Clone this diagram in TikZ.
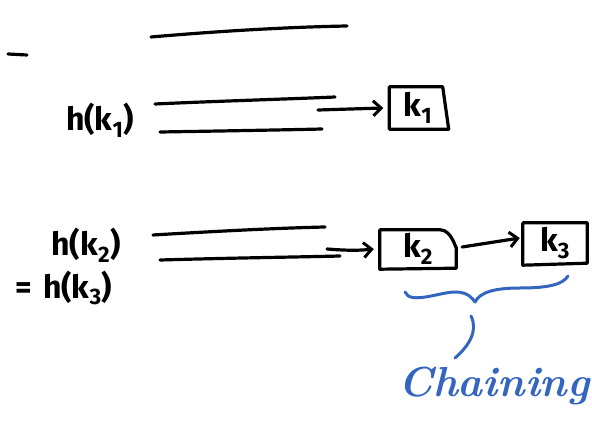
\documentclass[tikz,border=0pt]{standalone}
\usepackage{fontspec}
\setsansfont{Fira Sans}
\usetikzlibrary{arrows.meta}
\definecolor{inkblue}{RGB}{52,102,192}
\tikzset{
  ink/.style={line width=3.2pt, line cap=round, line join=round, black},
  blueink/.style={line width=3pt, line cap=round, line join=round, inkblue},
  link/.style={ink, -{Straight Barb[length=8pt,width=15pt,line width=3pt]}},
  keybox/.style={inner sep=0pt, font=\sffamily\bfseries\fontsize{32}{32}\selectfont},
  label/.style={inner sep=0pt, font=\sffamily\bfseries\fontsize{32}{32}\selectfont},
}
\begin{document}
\begin{tikzpicture}[x=1pt,y=-1pt]
\useasboundingbox (0,0) rectangle (592,425);

% empty slot and stray mark at the top
\draw[ink] (8,54) -- (27,55);
\draw[ink] (151,37) .. controls (220,31) and (290,27) .. (347,26);

% slot for h(k1)
\node[label] (hk1) at (100,120) {h(k\textsubscript{1})};
\draw[ink] (155,104) .. controls (220,101) and (290,99) .. (335,97);
\draw[ink] (160,132) .. controls (220,131) and (280,130) .. (322,129);
\coordinate (s1) at (318,110);

% slot for h(k2) = h(k3)
\node[label] (hk2) at (86,245) {h(k\textsubscript{2})};
\node[label] (hk3) at (64,288) {=\,\,h(k\textsubscript{3})};
\draw[ink] (153,235) .. controls (220,231) and (280,228) .. (325,227);
\draw[ink] (160,260) .. controls (230,258) and (300,257) .. (340,256);
\coordinate (s2) at (327,249);

% key nodes
\node[keybox, minimum width=57pt, minimum height=42pt] (k1) at (418,108) {k\textsubscript{1}};
\draw[ink] (k1.north west) -- ([xshift=-4pt]k1.north east)
  -- ([xshift=2pt]k1.south east) -- (k1.south west) -- cycle;

\node[keybox, minimum width=76pt, minimum height=38pt] (k2) at (418,249) {k\textsubscript{2}};
\draw[ink] (k2.north west) -- ([xshift=-16pt]k2.north east)
  .. controls ([xshift=-4pt]k2.north east) and ([yshift=-2pt]k2.east) .. ([yshift=2pt]k2.east)
  -- (k2.south east) -- ([yshift=-1pt]k2.south west) -- cycle;

\node[keybox, minimum width=64pt, minimum height=40pt] (k3) at (555,243) {k\textsubscript{3}};
\draw[ink] (k3.north west) -- (k3.north east) -- (k3.south east)
  -- ([yshift=-2pt]k3.south west) -- cycle;

% chain links
\draw[link] (s1) -- ([xshift=-6pt]k1.west);
\draw[link] (s2) .. controls (340,250) and (355,251) .. ([xshift=-6pt]k2.west);
\draw[link] ([xshift=6pt,yshift=2pt]k2.east) -- ([xshift=-3pt,yshift=5pt]k3.west);

% brace and label
\node[inner sep=0pt, text=inkblue, font=\bfseries\itshape\fontsize{42}{42}\selectfont] (chain) at (494,386) {Chaining};
\coordinate (b1) at (405,292);
\coordinate (b2) at (475,302);
\coordinate (b3) at (568,276);
\draw[blueink] (b1) .. controls (410,305) and (440,292) .. (455,292)
  .. controls (468,292) and (472,298) .. (b2)
  .. controls (480,292) and (495,288) .. (520,288)
  .. controls (550,288) and (563,284) .. (b3);
\draw[blueink] (471,316) .. controls (478,330) and (470,345) .. (455,358);
\end{tikzpicture}
\end{document}
